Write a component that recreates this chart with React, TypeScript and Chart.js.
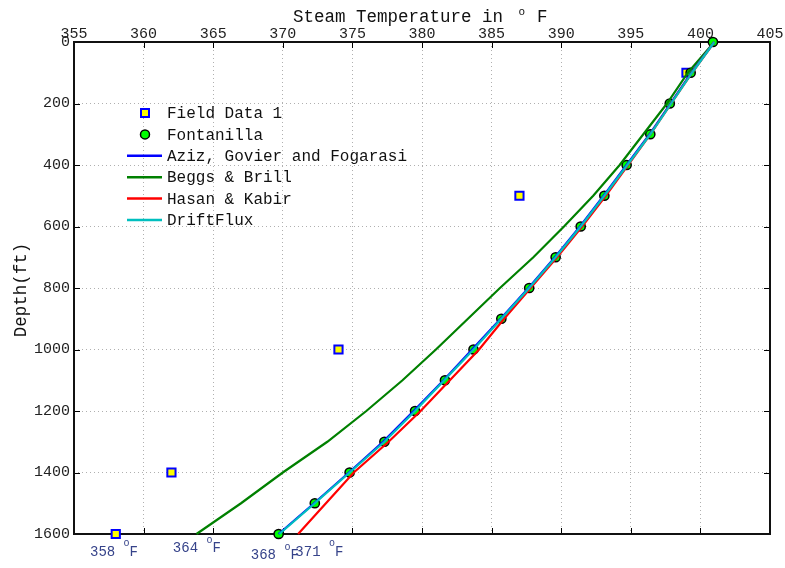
import React, { useEffect, useRef } from "react";
import { Chart, registerables } from "chart.js";

Chart.register(...registerables);

// ---- Data ----
const depths = [0, 100, 200, 300, 400, 500, 600, 700, 800, 900, 1000, 1100, 1200, 1300, 1400, 1500, 1600];

const fieldDepths = [100, 500, 1000, 1400, 1600];
const fieldTemps = [399, 387, 374, 362, 358];

const fontanillaTemps = [400.9, 399.3, 397.8, 396.4, 394.7, 393.1, 391.4, 389.6, 387.7, 385.7, 383.7, 381.65, 379.5, 377.3, 374.8, 372.3, 369.7];
const azizTemps = [401, 399.35, 397.85, 396.35, 394.7, 393.05, 391.35, 389.55, 387.65, 385.65, 383.6, 381.55, 379.4, 377.2, 374.75, 372.25, 369.7];
const beggsTemps = [401, 399.1, 397.6, 395.9, 394.2, 392.3, 390.2, 388.0, 385.6, 383.3, 381.0, 378.6, 376.0, 373.2, 370.0, 367.0, 363.8];
const hasanTemps = [401, 399.4, 397.9, 396.4, 394.8, 393.2, 391.5, 389.7, 387.8, 385.9, 384.1, 382.0, 379.9, 377.6, 375.1, 373.1, 371.1];
const driftFluxTemps = [401, 399.4, 397.9, 396.4, 394.75, 393.1, 391.4, 389.6, 387.7, 385.7, 383.7, 381.6, 379.5, 377.3, 374.8, 372.3, 369.75];

const xMin = 355;
const xMax = 405;
const xStep = 5;
const yMin = 0;
const yMax = 1600;
const yStep = 200;

// bottom annotations: label text, anchor temperature (data units), anchor depth (data units)
const annoLabels = ["358", "364", "368", "371"];
const annoX = [356.15, 362.1, 367.7, 370.9];
const annoDepth = [1658, 1646, 1668, 1658];

const titleMain = "Steam Temperature in ";
const titleUnit = "F";
const yTitle = "Depth(ft)";

const seriesNames = ["Field Data 1", "Fontanilla", "Aziz, Govier and Fogarasi", "Beggs & Brill", "Hasan & Kabir", "DriftFlux"];

const MONO = '"Liberation Mono", "DejaVu Sans Mono", monospace';

const toPts = (xs: number[], ys: number[]) => xs.map((x, i) => ({ x, y: ys[i] }));

const decorPlugin = {
  id: "decor",
  beforeDatasetsDraw(chart: any) {
    const { ctx, chartArea: a, scales } = chart;
    const xs = scales.x;
    const ys = scales.y;
    ctx.save();
    ctx.strokeStyle = "#000";
    ctx.lineWidth = 1;
    ctx.beginPath();
    xs.ticks.forEach((t: any) => {
      const px = Math.round(xs.getPixelForValue(t.value)) + 0.5;
      ctx.moveTo(px, a.top);
      ctx.lineTo(px, a.top + 6);
      ctx.moveTo(px, a.bottom);
      ctx.lineTo(px, a.bottom - 6);
    });
    ys.ticks.forEach((t: any) => {
      const py = Math.round(ys.getPixelForValue(t.value)) + 0.5;
      ctx.moveTo(a.left, py);
      ctx.lineTo(a.left + 6, py);
      ctx.moveTo(a.right, py);
      ctx.lineTo(a.right - 6, py);
    });
    ctx.stroke();
    ctx.lineWidth = 2;
    ctx.strokeStyle = "#111";
    ctx.strokeRect(a.left, a.top, a.right - a.left, a.bottom - a.top);
    ctx.restore();
  },
  afterDraw(chart: any) {
    const { ctx, scales } = chart;
    const xs = scales.x;
    const ys = scales.y;
    ctx.save();

    // Title
    ctx.fillStyle = "#111";
    ctx.textBaseline = "alphabetic";
    ctx.textAlign = "left";
    ctx.font = `17.5px ${MONO}`;
    let tx = 293;
    ctx.fillText(titleMain, tx, 22);
    tx += ctx.measureText(titleMain).width;
    ctx.font = `11px ${MONO}`;
    ctx.fillText("o", tx + 5, 15);
    ctx.font = `17.5px ${MONO}`;
    ctx.fillText(titleUnit, 537, 22);

    // Y title
    ctx.save();
    ctx.translate(21, 290);
    ctx.rotate(-Math.PI / 2);
    ctx.textAlign = "center";
    ctx.textBaseline = "middle";
    ctx.font = `17.5px ${MONO}`;
    ctx.fillText(yTitle, 0, 0);
    ctx.restore();

    // Legend
    const lx = 145;
    const textX = 167;
    const rowY0 = 113;
    const rowDy = 21.4;
    const lineColors = ["#0000ff", "#008000", "#ff0000", "#00bfbf"];
    ctx.font = `16px ${MONO}`;
    ctx.textBaseline = "middle";
    ctx.textAlign = "left";
    seriesNames.forEach((name, i) => {
      const y = rowY0 + i * rowDy;
      if (i === 0) {
        ctx.fillStyle = "#ffff00";
        ctx.fillRect(lx - 4, y - 4, 8, 8);
        ctx.strokeStyle = "#0000ff";
        ctx.lineWidth = 2;
        ctx.strokeRect(lx - 4, y - 4, 8, 8);
      } else if (i === 1) {
        ctx.beginPath();
        ctx.arc(lx, y, 4.5, 0, Math.PI * 2);
        ctx.fillStyle = "#00ff00";
        ctx.fill();
        ctx.strokeStyle = "#000";
        ctx.lineWidth = 1.5;
        ctx.stroke();
      } else {
        ctx.beginPath();
        ctx.moveTo(127, y);
        ctx.lineTo(162, y);
        ctx.strokeStyle = lineColors[i - 2];
        ctx.lineWidth = 2.5;
        ctx.stroke();
      }
      ctx.fillStyle = "#111";
      ctx.fillText(name, textX, y + 1);
    });

    // Bottom annotations
    ctx.fillStyle = "#36438a";
    ctx.textBaseline = "middle";
    annoLabels.forEach((lab, i) => {
      const px = xs.getPixelForValue(annoX[i]);
      const py = ys.getPixelForValue(annoDepth[i]);
      ctx.font = `14px ${MONO}`;
      const txt = lab + " ";
      ctx.fillText(txt, px, py);
      const w = ctx.measureText(txt).width;
      ctx.font = `10px ${MONO}`;
      ctx.fillText("o", px + w, py - 8);
      ctx.font = `14px ${MONO}`;
      ctx.fillText("F", px + w + 6, py);
    });

    ctx.restore();
  },
};

export default function App() {
  const ref = useRef<HTMLCanvasElement | null>(null);

  useEffect(() => {
    if (!ref.current) return;
    const lineDs = (label: string, temps: number[], color: string, order: number) => ({
      label,
      data: toPts(temps, depths),
      showLine: true,
      borderColor: color,
      backgroundColor: color,
      borderWidth: 2.2,
      pointRadius: 0,
      tension: 0,
      clip: false as any,
      order,
    });
    const chart = new Chart(ref.current, {
      type: "scatter",
      data: {
        datasets: [
          {
            label: seriesNames[0],
            data: toPts(fieldTemps, fieldDepths),
            pointStyle: "rect",
            pointRadius: 5.8,
            backgroundColor: "#ffff00",
            borderColor: "#0000ff",
            borderWidth: 2,
            clip: false as any,
            order: 11,
          },
          {
            label: seriesNames[1],
            data: toPts(fontanillaTemps, depths),
            pointStyle: "circle",
            pointRadius: 4.6,
            backgroundColor: "#00ff00",
            borderColor: "#000000",
            borderWidth: 1.5,
            clip: false as any,
            order: 10,
          },
          lineDs(seriesNames[2], azizTemps, "#0000ff", 3),
          lineDs(seriesNames[3], beggsTemps, "#008000", 4),
          lineDs(seriesNames[4], hasanTemps, "#ff0000", 2),
          lineDs(seriesNames[5], driftFluxTemps, "#00bfbf", 1),
        ],
      },
      options: {
        responsive: true,
        maintainAspectRatio: false,
        animation: false,
        layout: { padding: { left: 0, top: 0, right: 15, bottom: 34 } },
        plugins: {
          legend: { display: false },
          tooltip: { enabled: false },
          title: { display: false },
        },
        scales: {
          x: {
            type: "linear",
            position: "top",
            min: xMin,
            max: xMax,
            ticks: {
              stepSize: xStep,
              color: "#222",
              font: { family: MONO, size: 15, lineHeight: 1 },
              padding: 0,
              maxRotation: 0,
              autoSkip: false,
              callback: (v: any) => String(v),
            },
            grid: { color: "#b0b0b0", lineWidth: 1, drawTicks: false },
            border: { display: false, dash: [1, 3] },
            afterFit: (s: any) => {
              s.height = 42;
            },
          },
          y: {
            type: "linear",
            position: "left",
            reverse: true,
            min: yMin,
            max: yMax,
            ticks: {
              stepSize: yStep,
              color: "#222",
              font: { family: MONO, size: 15, lineHeight: 1 },
              padding: 4,
              autoSkip: false,
              callback: (v: any) => String(v),
            },
            grid: { color: "#b0b0b0", lineWidth: 1, drawTicks: false },
            border: { display: false, dash: [1, 3] },
            afterFit: (s: any) => {
              s.width = 74;
            },
          },
        },
      },
      plugins: [decorPlugin],
    });
    return () => chart.destroy();
  }, []);

  return (
    <div style={{ position: "absolute", left: 0, top: 0, width: 785, height: 568, background: "#fff" }}>
      <canvas ref={ref} />
    </div>
  );
}
